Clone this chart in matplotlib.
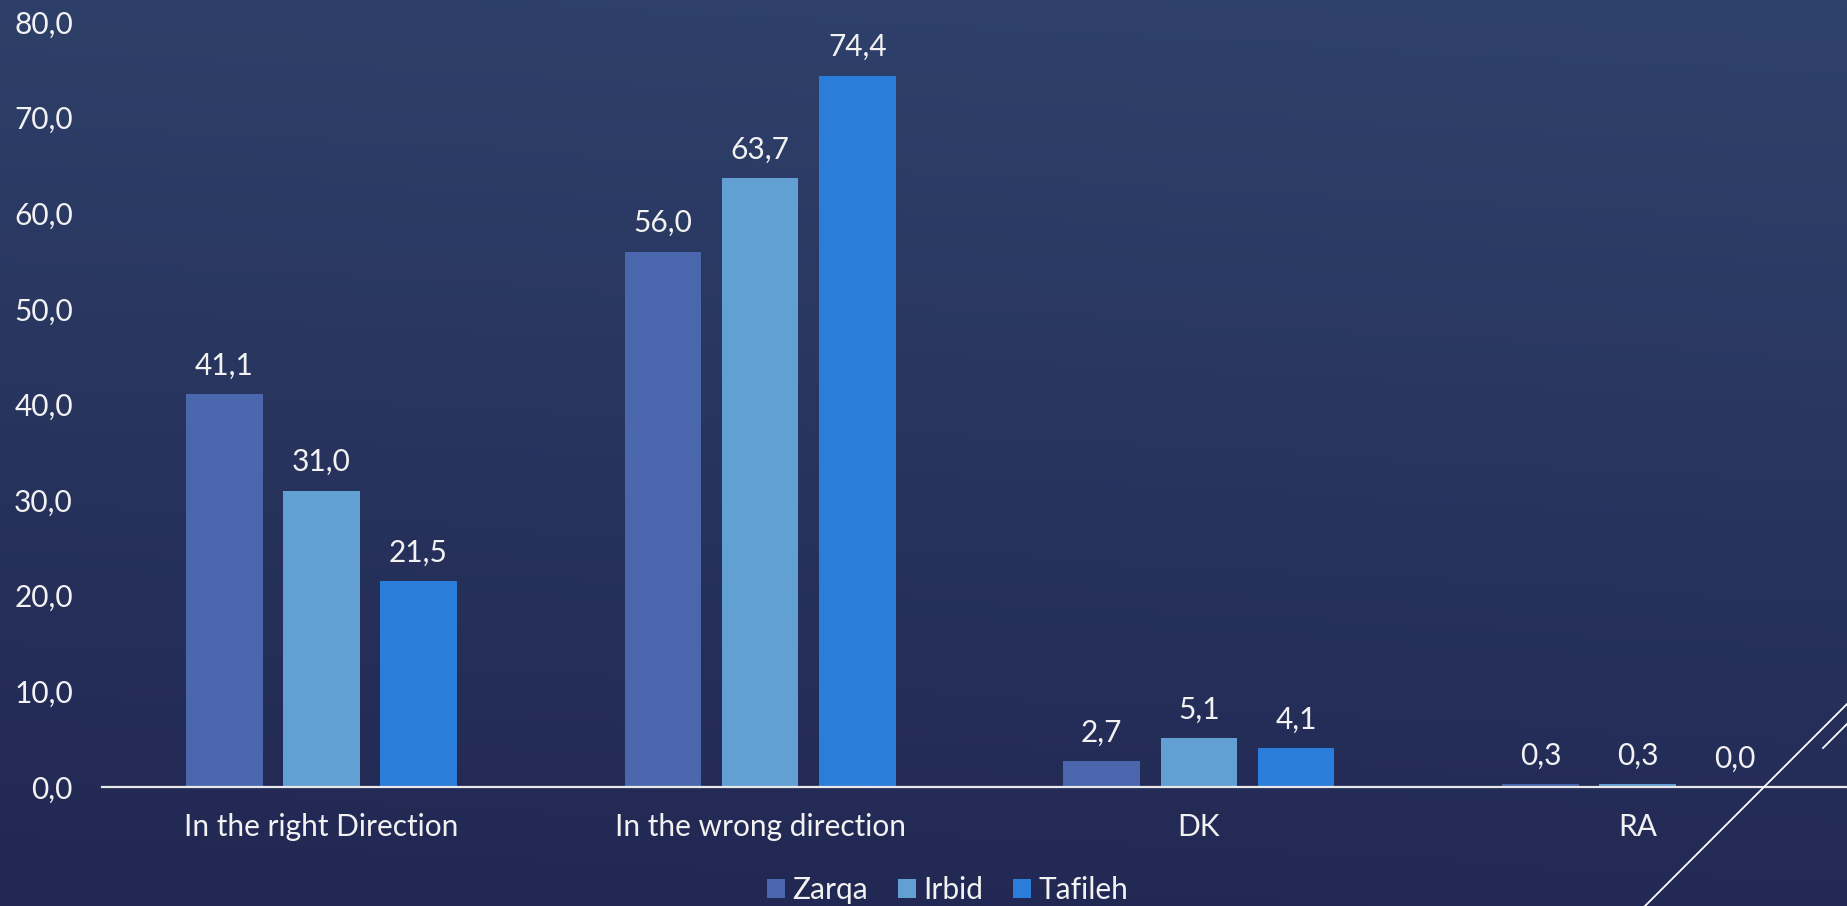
import matplotlib
matplotlib.use("Agg")
import matplotlib.pyplot as plt
import numpy as np
from matplotlib.patches import Patch
from matplotlib.lines import Line2D

categories = ["In the right Direction", "In the wrong direction", "DK", "RA"]
series_names = ["Zarqa", "Irbid", "Tafileh"]
zarqa = [41.1, 56.0, 2.7, 0.3]
irbid = [31.0, 63.7, 5.1, 0.3]
tafileh = [21.5, 74.4, 4.1, 0.0]
yticks = [0, 10, 20, 30, 40, 50, 60, 70, 80]

colors = ["#4A67AE", "#629FD3", "#2A7DD8"]
txt = "#F2F2F2"

fam = ["Lato", "Open Sans", "DejaVu Sans"]
plt.rcParams['font.family'] = fam
fs = 21.5
wt = "normal"

W, H = 1847, 906
fig = plt.figure(figsize=(W / 100, H / 100), dpi=100)

# background gradient
bg = fig.add_axes([0, 0, 1, 1], zorder=-10)
yy, xx = np.mgrid[0:1:200j, 0:1:200j]
t = np.clip(yy * 0.9 + (1 - xx) * 0.1, 0, 1)
top = np.array([47, 66, 107]) / 255
bot = np.array([33, 39, 82]) / 255
img = top[None, None, :] * (1 - t[..., None]) + bot[None, None, :] * t[..., None]
bg.imshow(img, aspect='auto', extent=[0, 1, 0, 1], origin='upper')
bg.set_axis_off()

ax = fig.add_axes([102 / W, 119 / H, (1857 - 102) / W, (884 - 119) / H])
ax.patch.set_alpha(0)

x = np.arange(len(categories))
bw = 0.1747
step = 0.2215
data = [zarqa, irbid, tafileh]
for i, (vals, c) in enumerate(zip(data, colors)):
    pos = x + (i - 1) * step
    ax.bar(pos, vals, width=bw, color=c, zorder=2, label=series_names[i])
    for px_, v in zip(pos, vals):
        ax.annotate(f"{v:.1f}".replace(".", ","), (px_, v), xytext=(0, 14),
                    textcoords="offset points", ha="center", va="baseline",
                    color=txt, fontsize=fs, fontweight=wt)

ax.set_xlim(-0.5, len(categories) - 0.5)
ax.set_ylim(0, 80)
ax.set_yticks(yticks)
ax.set_yticklabels([f"{v:.1f}".replace(".", ",") for v in yticks])
ax.set_xticks(x)
ax.set_xticklabels(categories)
ax.tick_params(axis='both', length=0, colors=txt, labelsize=fs)
ax.tick_params(axis='y', pad=21)
ax.tick_params(axis='x', pad=19)
for lab in ax.get_xticklabels() + ax.get_yticklabels():
    lab.set_fontweight(wt)
for s in ["top", "right", "left"]:
    ax.spines[s].set_visible(False)
ax.spines["bottom"].set_color("#E8E8E8")
ax.spines["bottom"].set_linewidth(1.6)
ax.spines["bottom"].set_zorder(3)

handles = [Patch(facecolor=c, edgecolor='none') for c in colors]
leg = fig.legend(handles, series_names, loc="center", bbox_to_anchor=(948 / W, 1 - 890 / H),
                 ncol=3, frameon=False, handlelength=0.6, handleheight=0.6,
                 handletextpad=0.25, columnspacing=1.0, labelcolor=txt,
                 prop={'family': fam, 'size': fs, 'weight': wt})

# decorative slide lines
fig.add_artist(Line2D([1645 / W, 1850 / W], [1 - 906 / H, 1 - 701 / H],
                      transform=fig.transFigure, color="white", lw=1.3))
fig.add_artist(Line2D([1823 / W, 1850 / W], [1 - 748 / H, 1 - 721 / H],
                      transform=fig.transFigure, color="white", lw=1.3))

fig.savefig("out.png", dpi=100)
